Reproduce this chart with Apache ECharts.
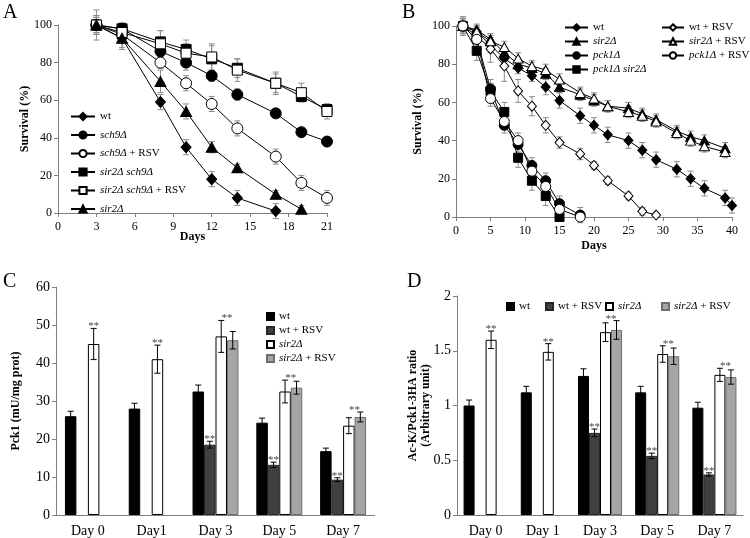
<!DOCTYPE html>
<html><head><meta charset="utf-8">
<script src="https://cdn.jsdelivr.net/npm/echarts@6/dist/echarts.min.js"></script>
<style>
body{margin:0;background:#fff;width:750px;height:538px;position:relative;overflow:hidden}
.p{position:absolute}
</style></head>
<body>
<div id="A" class="p" style="left:0;top:0;width:375px;height:260px"></div>
<div id="B" class="p" style="left:375px;top:0;width:375px;height:260px"></div>
<div id="C" class="p" style="left:0;top:260px;width:375px;height:278px"></div>
<div id="D" class="p" style="left:375px;top:260px;width:375px;height:278px"></div>
<script>
// ---------- Panel A data ----------
const aDays = [3, 5, 8, 10, 12, 14, 17, 19, 21];
const aWt = [100, 93, 59, 35, 18, 8, 1];
const aWtErr = [8, 5, 4, 4, 4, 4, 4];
const aSch9 = [100, 98, 86, 80, 73, 63, 53, 43, 38];
const aSch9Err = [5, 3, 3, 4, 3, 3, 2, 2, 2];
const aSch9Rsv = [100, 95, 80, 69, 58, 45, 30, 16, 8];
const aSch9RsvErr = [5, 4, 3, 4, 4, 4, 4, 4, 4];
const aSir2Sch9 = [100, 98, 91, 87, 82, 77, 69, 62, 55];
const aSir2Sch9Err = [4, 3, 6, 5, 7, 5, 5, 2, 3];
const aSir2Sch9Rsv = [100, 96, 90, 85, 83, 76, 69, 64, 54];
const aSir2Sch9RsvErr = [4, 3, 7, 5, 7, 6, 6, 5, 4];
const aSir2 = [100, 93, 70, 54, 35, 24, 10, 2];
const aSir2Err = [5, 6, 6, 4, 3, 2, 2, 2];

// ---------- Panel B data ----------
const bDays = [1, 3, 5, 7, 9, 11, 13, 15, 18, 20, 22, 25, 27, 29, 32, 34, 36, 39, 40];
const bWt = [100, 97, 90, 83, 78, 74, 68, 61, 53, 48, 43, 40, 35, 30, 25, 20, 15, 10, 6];
const bWtErr = [3, 3, 4, 3, 3, 3, 4, 4, 4, 4, 4, 4, 4, 4, 4, 4, 4, 4, 4];
const bSir2 = [100, 98, 93, 86, 80, 78, 75, 68, 64, 61, 58, 57, 54, 51, 45, 42, 40, 36];
const bSir2Err = [3, 3, 3, 3, 3, 3, 3, 3, 3, 3, 3, 3, 3, 3, 3, 3, 3, 3];
const bPck1 = [100, 93, 67, 48, 38, 27, 19, 7, 1];
const bPck1Err = [5, 5, 5, 4, 4, 4, 4, 4, 4];
const bPck1Sir2 = [100, 87, 66, 55, 31, 19, 11, 0];
const bPck1Sir2Err = [4, 5, 4, 5, 5, 5, 5, 2];
const bWtRsv = [100, 95, 88, 79, 66, 58, 48, 39, 33, 27, 19, 11, 3, 1];
const bWtRsvErr = [4, 4, 7, 8, 6, 5, 4, 3, 3, 2, 2, 2, 2, 1];
const bSir2Rsv = [100, 97, 92, 89, 83, 79, 77, 72, 65, 62, 58, 55, 53, 50, 44, 40, 37, 34];
const bSir2RsvErr = [3, 3, 4, 3, 3, 3, 3, 3, 3, 3, 3, 3, 3, 3, 3, 3, 3, 3];
const bPck1Rsv = [100, 93, 62, 50, 40, 24, 16, 4, 0];
const bPck1RsvErr = [4, 4, 4, 4, 4, 4, 4, 3, 2];

// ---------- Panel C data ----------
const cDays = ['Day 0', 'Day1', 'Day 3', 'Day 5', 'Day 7'];
const cWt = [26, 28, 32.5, 24.3, 16.8];
const cWtErr = [1.3, 1.4, 1.7, 1.2, 0.8];
const cWtRsv = [null, null, 18.5, 13.2, 9.3];
const cWtRsvErr = [0, 0, 0.9, 0.7, 0.5];
const cSir2 = [45, 41, 47, 32.5, 23.5];
const cSir2Err = [4.1, 3.7, 4.2, 3.0, 2.1];
const cSir2Rsv = [null, null, 46, 33.5, 25.8];
const cSir2RsvErr = [0, 0, 2.3, 1.7, 1.3];
const cSigWtRsv = [0, 0, 1, 1, 1];
const cSigSir2 = [1, 1, 1, 1, 1];

// ---------- Panel D data ----------
const dDays = ['Day 0', 'Day 1', 'Day 3', 'Day 5', 'Day 7'];
const dWt = [1.00, 1.12, 1.27, 1.12, 0.98];
const dWtErr = [0.05, 0.055, 0.065, 0.055, 0.05];
const dWtRsv = [null, null, 0.75, 0.54, 0.37];
const dWtRsvErr = [0, 0, 0.035, 0.025, 0.015];
const dSir2 = [1.60, 1.49, 1.67, 1.47, 1.28];
const dSir2Err = [0.08, 0.075, 0.085, 0.075, 0.06];
const dSir2Rsv = [null, null, 1.69, 1.45, 1.26];
const dSir2RsvErr = [0, 0, 0.085, 0.075, 0.065];
const dSigWtRsv = [0, 0, 1, 1, 1];
const dSigSir2 = [1, 1, 1, 1, 1];

// ---------- helpers ----------
const FF = 'Liberation Serif';
const AX = '#7f7f7f';
function ital(name) { return name.replace(/([a-z]+\d\u0394)/g, '{i|$1}'); }

function lineSeries(name, xs, ys, symbol, size, fill) {
  return {
    type: 'line', name: name, data: ys.map((y, i) => [xs[i], y]),
    symbol: symbol, symbolSize: size, showAllSymbol: true, z: 3,
    itemStyle: { color: fill, borderColor: '#000', borderWidth: 1 },
    lineStyle: { color: '#000', width: 1 }, emphasis: { disabled: true }, animation: false
  };
}
function seg(x1, y1, x2, y2, c) {
  return { type: 'line', shape: { x1: x1, y1: y1, x2: x2, y2: y2 }, style: { stroke: c, lineWidth: 1 } };
}
function lineErr(xs, ys, es, color, cap) {
  return {
    type: 'custom', silent: true, z: 1, animation: false,
    data: ys.map((y, i) => [xs[i], y, es[i]]), encode: { x: 0, y: 1 },
    renderItem: function (p, api) {
      const x = api.value(0), y = api.value(1), e = api.value(2);
      const a = api.coord([x, y + e]), b = api.coord([x, y - e]);
      return { type: 'group', children: [
        seg(a[0], a[1], b[0], b[1], color),
        seg(a[0] - cap, a[1], a[0] + cap, a[1], color),
        seg(b[0] - cap, b[1], b[0] + cap, b[1], color)] };
    }
  };
}
function barSeries(name, vals, fill, border, gap) {
  return {
    type: 'bar', name: name, data: vals, barGap: '0%', barCategoryGap: gap,
    itemStyle: { color: fill, borderColor: border, borderWidth: 1 },
    emphasis: { disabled: true }, animation: false, z: 2
  };
}
function barErr(vals, errs, slot, n, gapFrac, cap) {
  const data = [];
  vals.forEach((v, i) => { if (v != null) data.push([i, v, errs[i]]); });
  return {
    type: 'custom', silent: true, z: 4, animation: false, data: data, encode: { x: 0, y: 1 },
    renderItem: function (p, api) {
      const i = api.value(0), v = api.value(1), e = api.value(2);
      const bw = api.size([1, 0])[0] * (1 - gapFrac) / n;
      const c = api.coord([i, v]);
      const x = c[0] + (slot - (n - 1) / 2) * bw;
      const t = api.coord([i, v + e])[1], b = api.coord([i, v - e])[1];
      return { type: 'group', children: [
        seg(x, t, x, b, '#000'), seg(x - cap, t, x + cap, t, '#000'), seg(x - cap, b, x + cap, b, '#000')] };
    }
  };
}
function starSeries(wt, wtE, wtR, wtRE, s2, s2E, s2R, s2RE, sigW, sigS, gapFrac, fontSize) {
  const data = [];
  wtR.forEach((v, i) => { if (sigW[i] && v != null) data.push([i, v + wtRE[i], 1]); });
  s2.forEach((v, i) => {
    if (!sigS[i]) return;
    if (s2R[i] != null) data.push([i, Math.max(v + s2E[i], s2R[i] + s2RE[i]), 2.5]);
    else data.push([i, v + s2E[i], 2]);
  });
  return {
    type: 'custom', silent: true, z: 5, animation: false, data: data, encode: { x: 0, y: 1 },
    renderItem: function (p, api) {
      const i = api.value(0), top = api.value(1), slot = api.value(2);
      const bw = api.size([1, 0])[0] * (1 - gapFrac) / 4;
      const c = api.coord([i, top]);
      return { type: 'text', style: { text: '**', x: c[0] + (slot - 1.5) * bw, y: c[1] + 3.5,
        align: 'center', verticalAlign: 'bottom', fill: '#444', font: fontSize + 'px ' + FF } };
    }
  };
}
function panelLetter(t, x, y) {
  return { type: 'text', left: x, top: y, style: { text: t, font: '20px ' + FF, fill: '#000' } };
}
const tickLbl = (sz) => ({ fontFamily: FF, fontSize: sz, color: '#000' });
const richI = (sz) => ({ i: { fontStyle: 'italic', fontFamily: FF, fontSize: sz, color: '#000' } });

// ---------- Chart A ----------
const chA = echarts.init(document.getElementById('A'));
chA.setOption({
  animation: false,
  graphic: [panelLetter('A', 3, 3)],
  grid: { left: 58, top: 25, width: 269, height: 188 },
  xAxis: { type: 'value', min: 0, max: 21, interval: 3,
    axisLine: { lineStyle: { color: AX } }, axisTick: { length: 4, lineStyle: { color: AX } },
    splitLine: { show: false }, axisLabel: Object.assign({ margin: 8 }, tickLbl(12)),
    name: 'Days', nameLocation: 'middle', nameGap: 18, nameMoveOverlap: false,
    nameTextStyle: { fontFamily: FF, fontSize: 12, fontWeight: 'bold', color: '#000' } },
  yAxis: { type: 'value', min: 0, max: 100, interval: 20,
    axisLine: { show: true, lineStyle: { color: AX } }, axisTick: { show: true, length: 4, lineStyle: { color: AX } },
    splitLine: { show: false }, axisLabel: Object.assign({ margin: 6 }, tickLbl(12)),
    name: 'Survival (%)', nameLocation: 'middle', nameGap: 27, nameMoveOverlap: false,
    nameTextStyle: { fontFamily: FF, fontSize: 12, fontWeight: 'bold', color: '#000' } },
  legend: { orient: 'vertical', left: 65, top: 106, itemWidth: 24, itemHeight: 9, itemGap: 7.5,
    data: ['wt', 'sch9\u0394', 'sch9\u0394 + RSV', 'sir2\u0394 sch9\u0394', 'sir2\u0394 sch9\u0394 + RSV', 'sir2\u0394'],
    formatter: ital, selectedMode: false,
    textStyle: { fontFamily: FF, fontSize: 11, color: '#000', rich: richI(11) } },
  series: [
    lineErr(aDays, aWt, aWtErr, '#8c8c8c', 3),
    lineErr(aDays, aSch9, aSch9Err, '#8c8c8c', 3),
    lineErr(aDays, aSch9Rsv, aSch9RsvErr, '#8c8c8c', 3),
    lineErr(aDays, aSir2Sch9, aSir2Sch9Err, '#8c8c8c', 3),
    lineErr(aDays, aSir2Sch9Rsv, aSir2Sch9RsvErr, '#8c8c8c', 3),
    lineErr(aDays, aSir2, aSir2Err, '#8c8c8c', 3),
    lineSeries('wt', aDays, aWt, 'diamond', [10, 11], '#000'),
    lineSeries('sch9\u0394', aDays, aSch9, 'circle', 11, '#000'),
    lineSeries('sch9\u0394 + RSV', aDays, aSch9Rsv, 'circle', 11, '#fff'),
    lineSeries('sir2\u0394 sch9\u0394', aDays, aSir2Sch9, 'rect', 10, '#000'),
    lineSeries('sir2\u0394 sch9\u0394 + RSV', aDays, aSir2Sch9Rsv, 'rect', 10, '#fff'),
    lineSeries('sir2\u0394', aDays, aSir2, 'triangle', [11, 10], '#000')
  ]
});

// ---------- Chart B ----------
const chB = echarts.init(document.getElementById('B'));
const bLegText = { fontFamily: FF, fontSize: 11, color: '#000', rich: richI(11) };
chB.setOption({
  animation: false,
  graphic: [panelLetter('B', 27, 3)],
  grid: { left: 81, top: 26, width: 276, height: 191 },
  xAxis: { type: 'value', min: 0, max: 40, interval: 5,
    axisLine: { lineStyle: { color: AX } }, axisTick: { length: 4, lineStyle: { color: AX } },
    splitLine: { show: false }, axisLabel: Object.assign({ margin: 8 }, tickLbl(12)),
    name: 'Days', nameLocation: 'middle', nameGap: 23, nameMoveOverlap: false,
    nameTextStyle: { fontFamily: FF, fontSize: 12, fontWeight: 'bold', color: '#000' } },
  yAxis: { type: 'value', min: 0, max: 100, interval: 20,
    axisLine: { show: true, lineStyle: { color: AX } }, axisTick: { show: true, length: 4, lineStyle: { color: AX } },
    splitLine: { show: false }, axisLabel: Object.assign({ margin: 6 }, tickLbl(12)),
    name: 'Survival (%)', nameLocation: 'middle', nameGap: 32, nameMoveOverlap: false,
    nameTextStyle: { fontFamily: FF, fontSize: 12, fontWeight: 'bold', color: '#000' } },
  legend: [
    { orient: 'vertical', left: 184, top: 17, itemWidth: 23, itemHeight: 8, itemGap: 3,
      data: ['wt', 'sir2\u0394', 'pck1\u0394', 'pck1\u0394 sir2\u0394'], formatter: ital, selectedMode: false, textStyle: bLegText },
    { orient: 'vertical', left: 281, top: 17, itemWidth: 22, itemHeight: 8, itemGap: 3,
      data: ['wt + RSV', 'sir2\u0394 + RSV', 'pck1\u0394 + RSV'], formatter: ital, selectedMode: false, textStyle: bLegText }
  ],
  series: [
    lineErr(bDays, bWt, bWtErr, '#8c8c8c', 3),
    lineErr(bDays, bSir2, bSir2Err, '#8c8c8c', 3),
    lineErr(bDays, bPck1, bPck1Err, '#8c8c8c', 3),
    lineErr(bDays, bPck1Sir2, bPck1Sir2Err, '#8c8c8c', 3),
    lineErr(bDays, bWtRsv, bWtRsvErr, '#8c8c8c', 3),
    lineErr(bDays, bSir2Rsv, bSir2RsvErr, '#8c8c8c', 3),
    lineErr(bDays, bPck1Rsv, bPck1RsvErr, '#8c8c8c', 3),
    lineSeries('wt', bDays, bWt, 'diamond', [9, 10], '#000'),
    lineSeries('sir2\u0394', bDays, bSir2, 'triangle', [10, 9], '#000'),
    lineSeries('pck1\u0394', bDays, bPck1, 'circle', 10, '#000'),
    lineSeries('pck1\u0394 sir2\u0394', bDays, bPck1Sir2, 'rect', 9, '#000'),
    lineSeries('wt + RSV', bDays, bWtRsv, 'diamond', [9, 10], '#fff'),
    lineSeries('sir2\u0394 + RSV', bDays, bSir2Rsv, 'triangle', [10, 9], '#fff'),
    lineSeries('pck1\u0394 + RSV', bDays, bPck1Rsv, 'circle', 10, '#fff')
  ]
});

// ---------- Chart C ----------
const cGap = 0.28;
const chC = echarts.init(document.getElementById('C'));
const barLeg = { fontFamily: FF, fontSize: 11, color: '#000', rich: richI(11) };
chC.setOption({
  animation: false,
  graphic: [panelLetter('C', 3, 12)],
  grid: { left: 56, top: 27, width: 324, height: 230 },
  xAxis: { type: 'category', data: cDays,
    axisLine: { lineStyle: { color: AX } }, axisTick: { length: 4, lineStyle: { color: AX } },
    axisLabel: Object.assign({ margin: 9 }, tickLbl(14)) },
  yAxis: { type: 'value', min: 0, max: 60, interval: 10,
    axisLine: { show: true, lineStyle: { color: AX } }, axisTick: { show: true, length: 4, lineStyle: { color: AX } },
    splitLine: { show: false }, axisLabel: Object.assign({ margin: 6 }, tickLbl(14)),
    name: 'Pck1 (mU/mg prot)', nameLocation: 'middle', nameGap: 34, nameMoveOverlap: false,
    nameTextStyle: { fontFamily: FF, fontSize: 12, fontWeight: 'bold', color: '#000' } },
  legend: { orient: 'vertical', left: 261, top: 46, itemWidth: 7, itemHeight: 7, itemGap: 3, icon: 'rect',
    data: ['wt', 'wt + RSV', 'sir2\u0394', 'sir2\u0394 + RSV'], formatter: ital, selectedMode: false, textStyle: barLeg },
  series: [
    barSeries('wt', cWt, '#000', '#000', (cGap * 100) + '%'),
    barSeries('wt + RSV', cWtRsv, '#404040', '#262626', (cGap * 100) + '%'),
    barSeries('sir2\u0394', cSir2, '#fff', '#000', (cGap * 100) + '%'),
    barSeries('sir2\u0394 + RSV', cSir2Rsv, '#a6a6a6', '#6e6e6e', (cGap * 100) + '%'),
    barErr(cWt, cWtErr, 0, 4, cGap, 3),
    barErr(cWtRsv, cWtRsvErr, 1, 4, cGap, 3),
    barErr(cSir2, cSir2Err, 2, 4, cGap, 3),
    barErr(cSir2Rsv, cSir2RsvErr, 3, 4, cGap, 3),
    starSeries(cWt, cWtErr, cWtRsv, cWtRsvErr, cSir2, cSir2Err, cSir2Rsv, cSir2RsvErr, cSigWtRsv, cSigSir2, cGap, 11)
  ]
});

// ---------- Chart D ----------
const dGap = 0.23;
const chD = echarts.init(document.getElementById('D'));
const dLeg = (name, x) => ({ left: x, top: 36, itemWidth: 7, itemHeight: 7, itemGap: 3, icon: 'rect',
  data: [name], formatter: ital, selectedMode: false, textStyle: barLeg });
chD.setOption({
  animation: false,
  graphic: [panelLetter('D', 32, 12)],
  grid: { left: 82, top: 36, width: 286, height: 220 },
  xAxis: { type: 'category', data: dDays,
    axisLine: { lineStyle: { color: AX } }, axisTick: { length: 4, lineStyle: { color: AX } },
    axisLabel: Object.assign({ margin: 9 }, tickLbl(14)) },
  yAxis: { type: 'value', min: 0, max: 2, interval: 0.5,
    axisLine: { show: true, lineStyle: { color: AX } }, axisTick: { show: true, length: 4, lineStyle: { color: AX } },
    splitLine: { show: false }, axisLabel: Object.assign({ margin: 6 }, tickLbl(14)),
    name: 'Ac-K/Pck1-3HA ratio\n(Arbitrary unit)', nameLocation: 'middle', nameGap: 25, nameMoveOverlap: false,
    nameTextStyle: { fontFamily: FF, fontSize: 12, fontWeight: 'bold', color: '#000', lineHeight: 13 } },
  legend: [dLeg('wt', 126), dLeg('wt + RSV', 165), dLeg('sir2\u0394', 225), dLeg('sir2\u0394 + RSV', 281)],
  series: [
    barSeries('wt', dWt, '#000', '#000', (dGap * 100) + '%'),
    barSeries('wt + RSV', dWtRsv, '#404040', '#262626', (dGap * 100) + '%'),
    barSeries('sir2\u0394', dSir2, '#fff', '#000', (dGap * 100) + '%'),
    barSeries('sir2\u0394 + RSV', dSir2Rsv, '#a6a6a6', '#6e6e6e', (dGap * 100) + '%'),
    barErr(dWt, dWtErr, 0, 4, dGap, 3),
    barErr(dWtRsv, dWtRsvErr, 1, 4, dGap, 3),
    barErr(dSir2, dSir2Err, 2, 4, dGap, 3),
    barErr(dSir2Rsv, dSir2RsvErr, 3, 4, dGap, 3),
    starSeries(dWt, dWtErr, dWtRsv, dWtRsvErr, dSir2, dSir2Err, dSir2Rsv, dSir2RsvErr, dSigWtRsv, dSigSir2, dGap, 11)
  ]
});
</script>
</body></html>
